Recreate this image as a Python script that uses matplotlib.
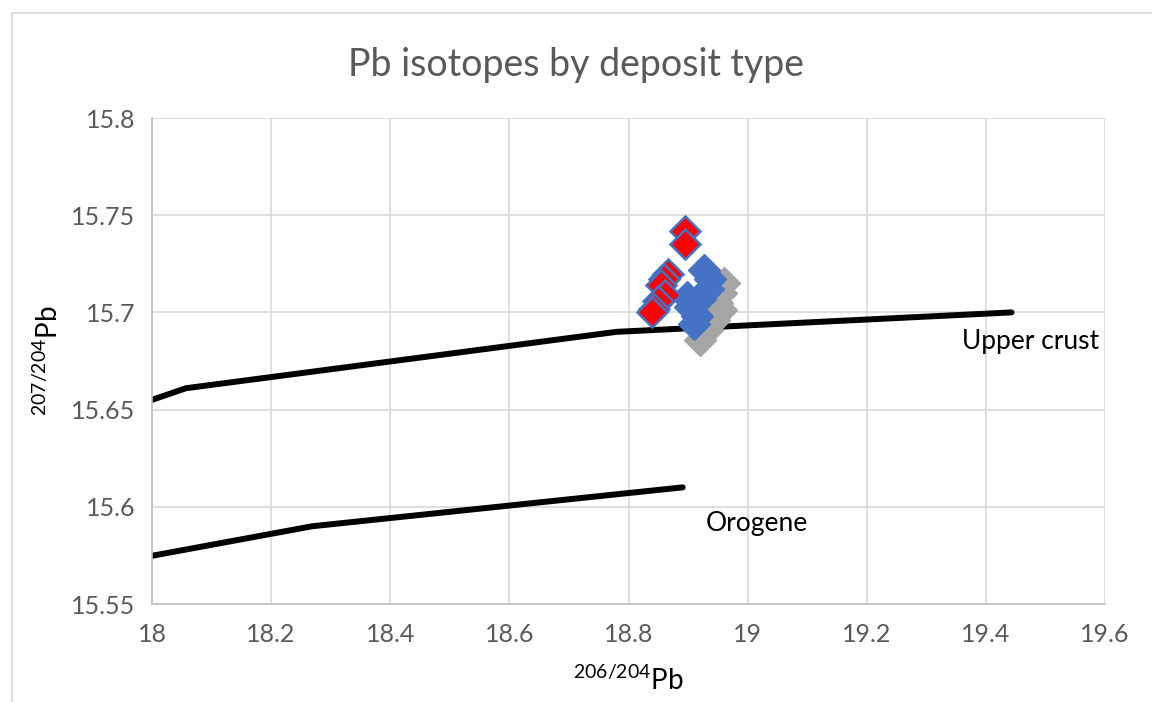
import matplotlib
matplotlib.use('Agg')
import matplotlib.pyplot as plt
from matplotlib.patches import Rectangle

# Bleiisotopen nach Lagerstaettentyp
red_x = [18.895, 18.895, 18.866, 18.860, 18.855, 18.862, 18.850, 18.843, 18.840]
red_y = [15.742, 15.735, 15.720, 15.717, 15.714, 15.709, 15.706, 15.702, 15.700]

blue_x = [18.926, 18.937, 18.933, 18.920, 18.904, 18.898, 18.915, 18.910]
blue_y = [15.722, 15.717, 15.712, 15.707, 15.703, 15.708, 15.698, 15.694]

grey_x = [18.960, 18.955, 18.949, 18.955, 18.943, 18.932, 18.920]
grey_y = [15.715, 15.710, 15.705, 15.701, 15.696, 15.691, 15.686]

# Referenzkurven
crust_x = [18.0, 18.057, 18.78, 19.443]
crust_y = [15.655, 15.661, 15.690, 15.700]
orogene_x = [18.0, 18.269, 18.891]
orogene_y = [15.5748, 15.590, 15.610]

x_ticks = [18, 18.2, 18.4, 18.6, 18.8, 19, 19.2, 19.4, 19.6]
y_ticks = [15.55, 15.6, 15.65, 15.7, 15.75, 15.8]

plt.rcParams['font.family'] = ['Lato', 'DejaVu Sans']
plt.rcParams['mathtext.default'] = 'regular'

fig = plt.figure(figsize=(11.52, 7.02), dpi=100)
ax = fig.add_axes([152 / 1152, 1 - 604 / 702, (1105 - 152) / 1152, (604 - 118) / 702])

# Rahmen des Diagrammbereichs
fig.patches.append(Rectangle((12 / 1152, -0.01), 1.0, 1 - 13 / 702 + 0.01,
                             transform=fig.transFigure, fill=False,
                             ec='#d9d9d9', lw=1.2))

ax.plot(crust_x, crust_y, color='black', lw=4.3, solid_capstyle='round', zorder=2)
ax.plot(orogene_x, orogene_y, color='black', lw=4.3, solid_capstyle='round', zorder=2)

ax.plot(grey_x, grey_y, 'D', ms=16, color='#a5a5a5', mec='#a5a5a5', zorder=3)
ax.plot(blue_x, blue_y, 'D', ms=16, color='#4472c4', mec='#4472c4', zorder=4)
ax.plot(red_x, red_y, 'D', ms=15, color='#ff0000', mec='#4472c4', mew=1.8, zorder=5)

ax.text(19.36, 15.685, 'Upper crust', fontsize=19, va='center', ha='left')
ax.text(18.93, 15.5915, 'Orogene', fontsize=19, va='center', ha='left')

ax.set_xlim(18, 19.6)
ax.set_ylim(15.55, 15.8)
ax.set_xticks(x_ticks)
ax.set_xticklabels(['18', '18.2', '18.4', '18.6', '18.8', '19', '19.2', '19.4', '19.6'])
ax.set_yticks(y_ticks)
ax.set_yticklabels(['15.55', '15.6', '15.65', '15.7', '15.75', '15.8'])
ax.tick_params(length=0, labelsize=18, labelcolor='#595959', pad=14)
ax.tick_params(axis='y', pad=12)
ax.grid(True, color='#d9d9d9', lw=1.2)
ax.set_axisbelow(True)
for side in ['top', 'right']:
    ax.spines[side].set_visible(False)
for side in ['left', 'bottom']:
    ax.spines[side].set_color('#bfbfbf')
    ax.spines[side].set_linewidth(1.2)

ax.set_xlabel('$^{206/204}$Pb', fontsize=20, labelpad=14)
ax.set_ylabel('$^{207/204}$Pb', fontsize=20, labelpad=6)

fig.text(0.5, 1 - 65 / 702, 'Pb isotopes by deposit type', ha='center', va='center',
         fontsize=27, color='#595959')

fig.savefig('out.png', dpi=100)
